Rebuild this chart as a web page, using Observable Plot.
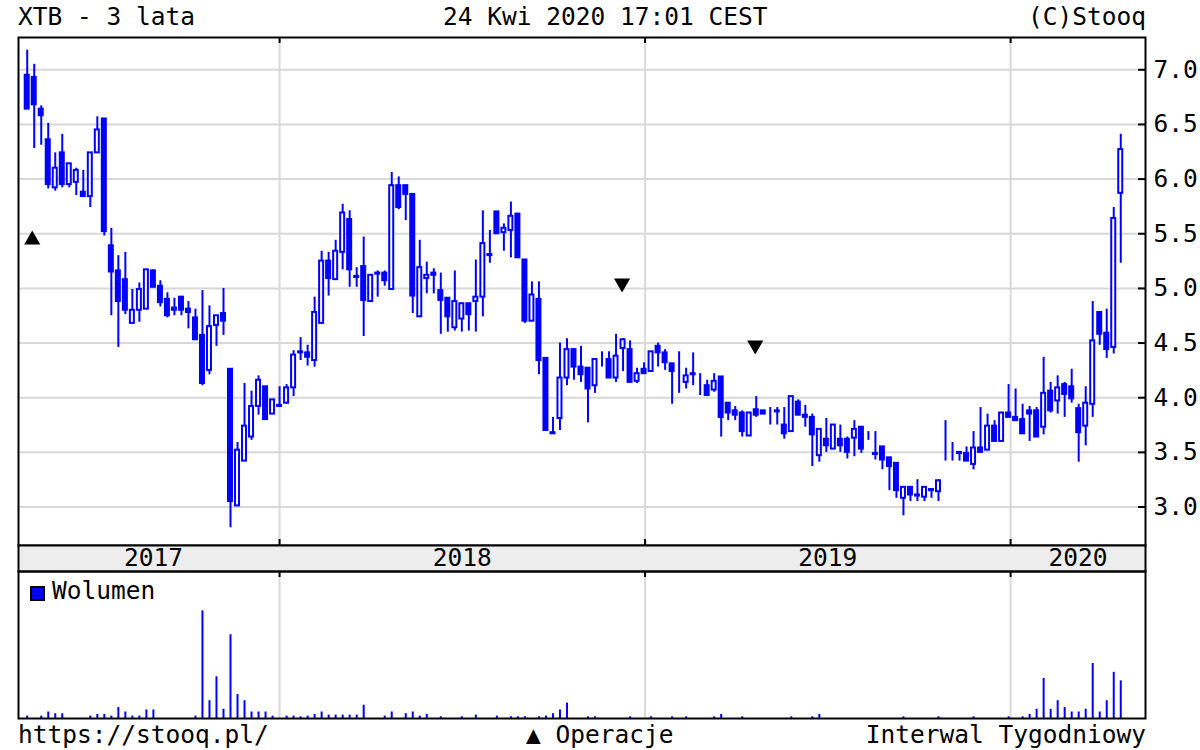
<!DOCTYPE html>
<html>
<head>
<meta charset="utf-8">
<script src="https://cdn.jsdelivr.net/npm/d3@7"></script>
<script src="https://cdn.jsdelivr.net/npm/@observablehq/plot@0.6"></script>
<style>
html,body{margin:0;padding:0;background:#fff;}
#chart{position:relative;width:1200px;height:750px;overflow:hidden;font-family:"DejaVu Sans Mono",monospace;font-size:24.5px;color:#000;}
.txt{position:absolute;white-space:pre;line-height:1;}
.panel{position:absolute;left:0;}
.panel svg{overflow:visible;display:block;}
#legbox{position:absolute;left:30px;top:586px;width:11px;height:11px;background:#0000ff;border:2px solid #000;}
</style>
</head>
<body>
<div id="chart">
  <div class="txt" style="left:18px;top:5px">XTB - 3 lata</div>
  <div class="txt" style="left:443px;top:5px">24 Kwi 2020 17:01 CEST</div>
  <div class="txt" style="right:54px;top:5px">(C)Stooq</div>
  <div class="panel" id="price" style="top:37px"></div>
  <div class="panel" id="band" style="top:545px"></div>
  <div class="panel" id="vol" style="top:571px"></div>
  <div id="legbox"></div>
  <div class="txt" style="left:52px;top:579px">Wolumen</div>
  <div class="txt" style="left:18px;top:723px">https://stooq.pl/</div>
  <div class="txt" style="left:526px;top:723px">▲ Operacje</div>
  <div class="txt" style="right:54px;top:723px">Interwal Tygodniowy</div>
</div>
<script>
// ---- data (weekly candles, week starting 2017-04-24) ----
const weekStart = "2017-04-24";
const open = [
6.95,6.93,6.64,6.36,5.92,6.24,5.95,5.97,5.88,5.84,
6.24,6.55,5.39,5.16,5.08,4.68,4.80,4.81,5.16,5.02,
4.90,4.80,4.92,4.81,4.73,4.57,4.25,4.66,4.77,4.26,
3.01,3.42,3.64,3.92,4.10,3.85,3.92,3.95,4.09,4.41,
4.41,4.34,4.68,5.25,5.08,5.33,5.63,5.10,5.20,4.88,
5.13,5.14,4.99,5.94,5.94,5.86,4.74,5.09,5.14,4.98,
4.91,4.64,4.72,4.86,4.88,4.92,5.30,5.70,5.51,5.53,
5.68,5.26,4.70,4.90,4.36,3.68,3.81,4.18,4.44,4.28,
4.27,4.11,4.34,4.35,4.18,4.45,4.44,4.15,4.26,4.24,
4.47,4.41,4.31,4.27,4.14,4.22,4.10,4.11,4.07,4.19,
3.95,3.88,3.86,3.65,3.89,3.88,3.81,3.88,3.75,3.69,
3.96,3.84,3.82,3.47,3.62,3.53,3.62,3.62,3.63,3.73,
3.64,3.49,3.55,3.45,3.40,3.08,3.18,3.11,3.09,3.16,
3.14,3.50,3.49,3.49,3.49,3.39,3.54,3.52,3.74,3.60,
3.86,3.82,3.80,3.88,3.88,3.73,4.06,3.97,4.12,4.10,
3.90,3.74,3.94,4.78,4.59,4.46,5.87];
const high = [
7.18,7.05,6.67,6.51,6.24,6.41,6.14,6.10,6.08,6.24,
6.57,6.55,5.55,5.30,5.33,4.99,5.05,5.17,5.17,5.07,
4.96,4.91,4.92,4.88,4.81,4.98,4.84,4.75,5.00,4.26,
3.59,4.13,4.06,4.20,4.10,3.98,4.10,4.12,4.43,4.55,
4.48,4.92,5.34,5.33,5.44,5.77,5.71,5.19,5.47,5.12,
5.16,5.16,6.06,6.02,5.94,5.86,5.44,5.24,5.18,5.14,
4.91,5.16,4.86,4.86,5.26,5.71,5.53,5.70,5.59,5.79,
5.68,5.26,5.06,5.06,4.36,3.82,4.50,4.54,4.45,4.47,
4.27,4.35,4.42,4.42,4.58,4.54,4.52,4.27,4.32,4.42,
4.50,4.44,4.31,4.42,4.27,4.41,4.22,4.16,4.22,4.19,
3.95,3.92,3.88,3.86,4.01,3.88,3.91,3.91,3.91,4.01,
3.98,3.93,3.85,3.71,3.81,3.75,3.75,3.64,3.79,3.73,
3.69,3.69,3.55,3.45,3.40,3.18,3.18,3.25,3.18,3.17,
3.25,3.79,3.59,3.50,3.55,3.69,3.91,3.85,3.79,3.86,
4.12,4.08,3.94,3.92,3.91,4.37,4.14,4.20,4.14,4.26,
3.94,4.10,4.88,4.78,4.81,5.74,6.41];
const low = [
6.64,6.28,6.31,5.91,5.89,5.92,5.92,5.85,5.84,5.74,
6.24,5.48,4.75,4.46,4.76,4.68,4.69,4.81,5.01,4.83,
4.73,4.75,4.75,4.63,4.53,4.11,4.21,4.47,4.57,2.81,
3.01,3.42,3.61,3.84,3.80,3.85,3.91,3.94,4.01,4.34,
4.29,4.28,4.68,4.93,5.08,5.17,5.01,5.01,4.56,4.88,
4.92,5.02,4.99,5.72,5.62,4.77,4.74,4.95,4.95,4.58,
4.60,4.61,4.60,4.61,4.60,4.74,5.23,5.50,5.34,5.28,
5.28,4.68,4.70,4.21,3.70,3.67,3.70,4.11,4.16,4.14,
3.77,4.04,4.28,4.18,4.14,4.24,4.14,4.13,4.22,4.24,
4.28,4.25,3.94,4.04,4.08,4.11,4.02,4.02,4.05,3.64,
3.79,3.79,3.64,3.65,3.82,3.85,3.75,3.75,3.62,3.69,
3.84,3.73,3.37,3.41,3.50,3.53,3.50,3.44,3.46,3.49,
3.61,3.43,3.34,3.15,3.08,2.92,3.05,3.05,3.05,3.08,
3.05,3.42,3.42,3.42,3.42,3.34,3.50,3.52,3.60,3.60,
3.82,3.79,3.67,3.60,3.64,3.66,3.86,3.85,3.82,3.95,
3.41,3.56,3.82,4.48,4.36,4.40,5.23];
const close = [
6.64,6.68,6.58,5.95,6.10,5.95,6.14,6.08,5.84,6.24,
6.45,5.52,5.15,4.88,4.80,4.80,4.99,5.17,5.01,4.87,
4.75,4.82,4.80,4.78,4.53,4.13,4.65,4.75,4.70,3.05,
3.52,3.74,3.92,4.16,3.80,3.98,3.93,4.09,4.39,4.42,
4.37,4.78,5.25,5.09,5.34,5.69,5.17,5.11,4.89,5.12,
5.14,5.07,5.94,5.74,5.86,4.93,5.19,5.12,5.12,4.89,
4.74,4.88,4.86,4.76,4.92,5.41,5.31,5.50,5.55,5.66,
5.28,4.70,4.94,4.34,3.70,3.67,4.18,4.44,4.28,4.21,
4.08,4.35,4.34,4.18,4.38,4.53,4.14,4.22,4.22,4.42,
4.41,4.32,4.24,4.27,4.20,4.21,4.10,4.02,4.15,3.82,
3.86,3.84,3.69,3.86,3.84,3.85,3.81,3.87,3.67,4.01,
3.84,3.82,3.66,3.71,3.56,3.75,3.56,3.50,3.71,3.53,
3.64,3.48,3.43,3.37,3.15,3.18,3.11,3.10,3.18,3.15,
3.24,3.50,3.49,3.50,3.42,3.54,3.50,3.74,3.60,3.86,
3.82,3.79,3.67,3.85,3.64,4.04,3.88,4.09,4.03,3.99,
3.68,3.95,4.52,4.58,4.44,5.64,6.27];
const volume = [
7,0,7,19,14,14,0,0,0,7,
12,12,7,32,19,7,7,25,25,0,
0,0,0,0,7,315,52,122,27,245,
70,52,19,19,19,7,0,7,7,5,
7,12,19,10,10,10,10,10,39,0,
0,7,19,0,14,19,7,12,0,5,
0,0,5,0,10,0,0,7,0,5,
5,5,0,5,7,14,25,45,0,0,
5,5,0,0,0,0,5,0,0,5,
0,0,5,0,5,0,0,0,5,12,
0,0,5,0,0,0,0,0,0,5,
0,0,5,12,0,0,0,0,0,0,
0,0,0,0,0,5,0,0,0,0,
5,0,0,0,0,5,0,0,0,0,
5,0,5,12,27,117,27,52,32,19,
19,27,161,19,52,135,110];
const yTicks = [3.0, 3.5, 4.0, 4.5, 5.0, 5.5, 6.0, 6.5, 7.0];
const yearLabels = ["2017", "2018", "2019", "2020"];
const opsDates = ["2017-04-29", "2018-12-09", "2019-04-21"];
const opsPrices = [5.445, 5.047, 4.48];
const opsTypes = ["up", "down", "down"];

// ---- derived tables ----
const BLUE = "#0000ff", GRID = "#d8d8d8";
const t0 = new Date(weekStart + "T00:00Z");
const xDomain = [new Date("2017-04-15T07:00Z"), new Date("2020-05-14T17:00Z")];
const candles = open.map((o, i) => {
  const date = d3.utcDay.offset(t0, 7 * i);
  return {date, x1: d3.utcHour.offset(date, -48), x2: d3.utcHour.offset(date, 48),
          open: o, high: high[i], low: low[i], close: close[i], volume: volume[i]};
});
const up = candles.filter(d => d.close >= d.open);
const down = candles.filter(d => d.close < d.open);
const yearStarts = yearLabels.slice(1).map(y => new Date(y + "-01-01T00:00Z"));
const years = yearLabels.map(y => {
  const a = new Date(+y + "-01-01T00:00Z"), b = new Date((+y + 1) + "-01-01T00:00Z");
  const s = Math.max(+a, +candles[0].date), e = Math.min(+b, +xDomain[1]);
  return {label: y, mid: new Date((s + e) / 2)};
});
const ops = opsDates.map((d, i) => ({date: new Date(d + "T00:00Z"), price: opsPrices[i], type: opsTypes[i]}));
const downTriangle = {
  draw(context, size) {
    const s3 = Math.sqrt(3);
    const y = -Math.sqrt(size / (s3 * 3));
    context.moveTo(0, -y * 2);
    context.lineTo(-s3 * y, y);
    context.lineTo(s3 * y, y);
    context.closePath();
  }
};

const W = 1200, ML = 18, MR = 55;
const PW = W - ML - MR;
const style = {fontFamily: "DejaVu Sans Mono", fontSize: "24.5px", background: "none", overflow: "visible", color: "black"};

const PH = 508;
const price = Plot.plot({
  width: W, height: PH, marginLeft: ML, marginRight: MR, marginTop: 0, marginBottom: 0,
  style,
  x: {type: "utc", domain: xDomain, axis: null},
  y: {domain: [2.648, 7.2955]},
  marks: [
    Plot.ruleY(yTicks, {stroke: GRID, strokeWidth: 2}),
    Plot.ruleX(yearStarts, {stroke: GRID, strokeWidth: 2}),
    Plot.ruleX(yearStarts, {stroke: "black", strokeWidth: 2, insetBottom: PH - 6}),
    Plot.ruleX(yearStarts, {stroke: "black", strokeWidth: 2, insetTop: PH - 6}),
    Plot.ruleY(yTicks, {stroke: "black", strokeWidth: 2, insetLeft: PW - 7}),
    Plot.ruleX(candles, {x: "date", y1: "low", y2: "high", stroke: BLUE, strokeWidth: 2}),
    Plot.rect(down, {x1: "x1", x2: "x2", y1: "open", y2: "close", fill: BLUE, stroke: BLUE, strokeWidth: 2}),
    Plot.rect(up, {x1: "x1", x2: "x2", y1: "open", y2: "close", fill: "white", stroke: BLUE, strokeWidth: 2}),
    Plot.dot(ops.filter(d => d.type === "up"), {x: "date", y: "price", symbol: "triangle", r: 6, fill: "black", stroke: "none"}),
    Plot.dot(ops.filter(d => d.type === "down"), {x: "date", y: "price", symbol: downTriangle, r: 6, fill: "black", stroke: "none"}),
    Plot.frame({stroke: "black", strokeWidth: 2}),
    Plot.axisY({ticks: yTicks, anchor: "right", tickSize: 0, tickPadding: 8, tickFormat: d3.format(".1f"), label: null, fill: "black"})
  ]
});
document.getElementById("price").appendChild(price);

const band = Plot.plot({
  width: W, height: 26, marginLeft: ML, marginRight: MR, marginTop: 0, marginBottom: 0,
  style,
  x: {type: "utc", domain: xDomain, axis: null},
  y: {domain: [0, 1], axis: null},
  marks: [
    Plot.frame({fill: "#ededed", stroke: "black", strokeWidth: 2}),
    Plot.text(years, {x: "mid", text: "label", frameAnchor: "middle", fill: "black", fontSize: 24.5})
  ]
});
document.getElementById("band").appendChild(band);

const VH = 147;
const vol = Plot.plot({
  width: W, height: VH, marginLeft: ML, marginRight: MR, marginTop: 0, marginBottom: 0,
  style,
  x: {type: "utc", domain: xDomain, axis: null},
  y: {domain: [0, 430], axis: null},
  marks: [
    Plot.ruleX(yearStarts, {stroke: GRID, strokeWidth: 2}),
    Plot.ruleX(yearStarts, {stroke: "black", strokeWidth: 2, insetBottom: VH - 6}),
    Plot.ruleX(candles.filter(d => d.volume > 0), {x: "date", y: "volume", stroke: BLUE, strokeWidth: 2}),
    Plot.frame({stroke: "black", strokeWidth: 2})
  ]
});
document.getElementById("vol").appendChild(vol);
</script>
</body>
</html>
